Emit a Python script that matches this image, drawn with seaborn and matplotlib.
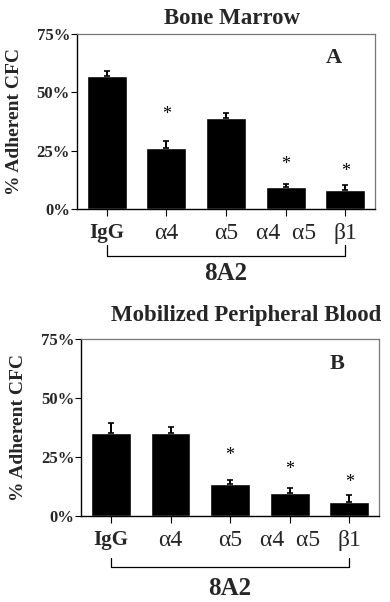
import numpy as np
import pandas as pd
import matplotlib
matplotlib.use("Agg")
import matplotlib.pyplot as plt
import matplotlib.transforms as mtrans
import seaborn as sns

sns.set_theme(style="white")
plt.rcParams['font.family'] = ['Liberation Serif', 'DejaVu Serif']

# data
groups = ["IgG", "α4", "α5", "α4  α5", "β1"]

bm_mean = [57, 26, 38.9, 9.2, 7.9]
bm_err = [2.0, 3.0, 2.1, 1.5, 2.4]
bm_star = [None, 40.5, None, 19, 16]

pb_mean = [35.4, 35.4, 13.4, 9.9, 6.1]
pb_err = [3.9, 2.5, 1.9, 2.1, 2.8]
pb_star = [None, None, 25.5, 19.5, 14]

yticks = [0, 25, 50, 75]
ytick_labels = ["0%", "25%", "50%", "75%"]

fig = plt.figure(figsize=(3.9, 6.02), dpi=100)
ax1 = fig.add_axes([0.197, 0.653, 0.765, 0.2907])
ax2 = fig.add_axes([0.208, 0.143, 0.764, 0.2935])


def panel(ax, mean, err, star, title, letter, title_x, title_y, brk):
    df = pd.DataFrame({"group": groups, "val": mean})
    sns.barplot(data=df, x="group", y="val", color="black", width=0.67,
                errorbar=None, ax=ax, saturation=1)
    x = np.arange(len(groups))
    ax.errorbar(x, mean, yerr=[np.zeros(len(err)), err], fmt="none",
                ecolor="black", elinewidth=1.4, capsize=2.5, capthick=1.2)
    for xi, s in zip(x, star):
        if s is not None:
            ax.text(xi, s, "*", ha="center", va="center", fontsize=13,
                    color="black")
    ax.set_xlim(-0.5, 4.5)
    ax.set_ylim(0, 75)
    ax.set_yticks(yticks)
    ax.set_yticklabels(ytick_labels, fontweight="bold", fontsize=12)
    ax.set_xlabel("")
    ax.set_ylabel("% Adherent CFC", fontweight="bold", fontsize=14, labelpad=10)
    ax.tick_params(axis="x", direction="out", length=5, width=0.8,
                   color="black", labelsize=17, pad=5, bottom=True)
    ax.tick_params(axis="y", direction="out", length=4, width=0.8,
                   color="black", left=True, pad=1)
    labs = ax.get_xticklabels()
    labs[0].set_fontweight("bold")
    labs[0].set_fontsize(15)
    for side in ["left", "bottom"]:
        ax.spines[side].set_color("black")
        ax.spines[side].set_linewidth(1.0)
    for side in ["top", "right"]:
        ax.spines[side].set_color("#777777")
        ax.spines[side].set_linewidth(0.9)
    ax.text(0.86, 0.86, letter, transform=ax.transAxes, ha="center",
            va="center", fontsize=16, fontweight="bold")
    ax.text(title_x, title_y, title, transform=ax.transAxes, ha="center",
            va="center", fontsize=16.5, fontweight="bold")
    tr = mtrans.blended_transform_factory(ax.transData, ax.transAxes)
    top_y, bot_y, lab_y = brk
    ax.plot([0, 0, 4, 4], [top_y, bot_y, bot_y, top_y], color="black",
            lw=0.9, transform=tr, clip_on=False)
    ax.text(2, lab_y, "8A2", transform=tr, ha="center", va="center",
            fontsize=18, fontweight="bold")


panel(ax1, bm_mean, bm_err, bm_star, "Bone Marrow", "A", 0.52, 1.09,
      (-0.206, -0.27, -0.37))
panel(ax2, pb_mean, pb_err, pb_star, "Mobilized Peripheral Blood", "B", 0.555,
      1.135, (-0.24, -0.29, -0.41))

fig.savefig("out.png", dpi=100)
